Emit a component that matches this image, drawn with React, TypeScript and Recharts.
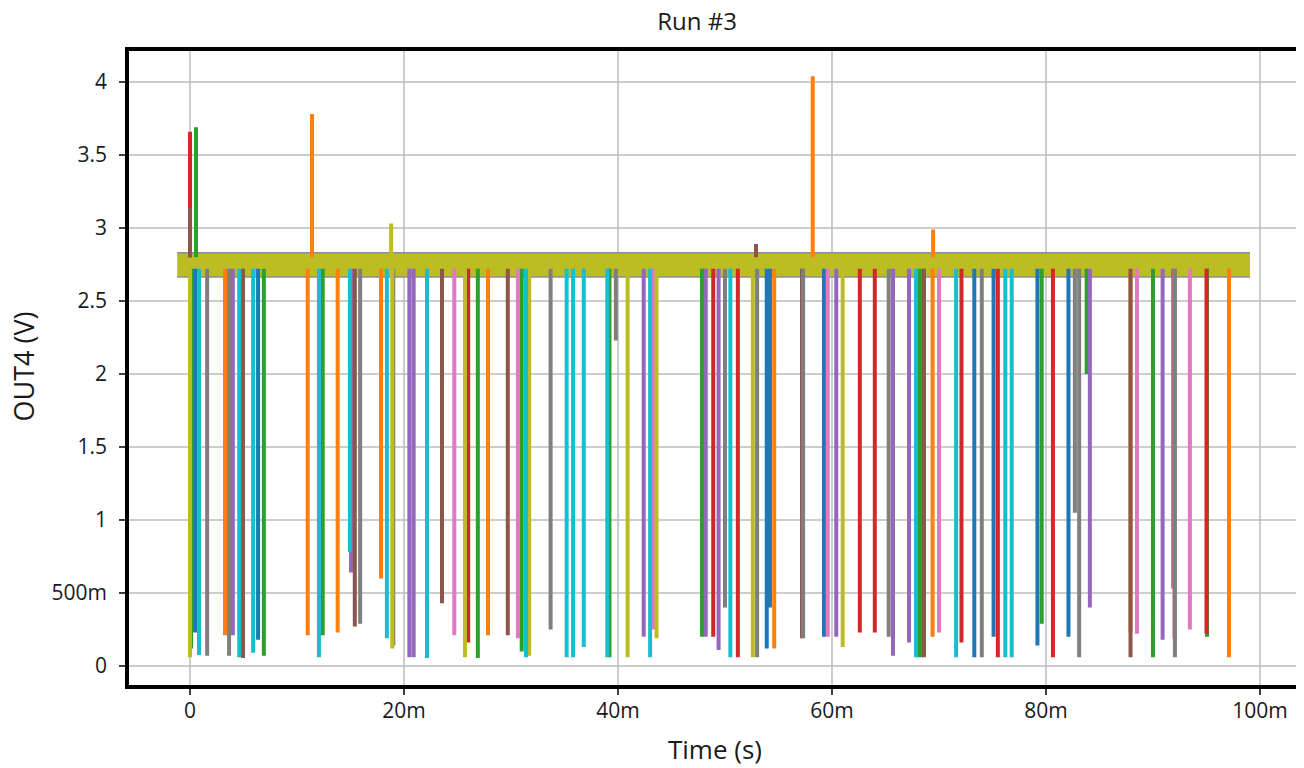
import React from 'react';
import { ComposedChart, Line, Area, XAxis, YAxis, CartesianGrid, ReferenceArea } from 'recharts';

// ---- axes ----
const xTicks = [0, 20, 40, 60, 80, 100]; // ms
const yTicks = [0, 0.5, 1, 1.5, 2, 2.5, 3, 3.5, 4];
const xDomain = [-5.89, 103.74];
const yDomain = [-0.144, 4.226];

// ---- steady-state band (ms, V) ----
const bandTimes = [-1.2, 99.07];
const bandLow = 2.665;
const bandHigh = 2.83;
const dipBase = [2.72];
const upBase = [2.8];

// ---- dips [time ms, min V] and peaks [time ms, max V] per series ----
const blueDips = [[0.47, 0.23], [6.36, 0.18], [53.9, 0.12], [54.2, 0.4], [59.25, 0.2], [73.3, 0.06], [75.1, 0.2], [79.2, 0.14], [82.1, 0.2]];
const bluePeaks: number[][] = [];
const orangeDips = [[3.27, 0.21], [11.0, 0.21], [13.8, 0.23], [17.85, 0.6], [27.85, 0.21], [54.6, 0.12], [69.4, 0.2], [87.9, 0.23], [97.1, 0.06]];
const orangePeaks = [[11.4, 3.78], [58.2, 4.04], [69.45, 2.99]];
const greenDips = [[0.1, 0.12], [6.9, 0.07], [12.4, 0.21], [26.9, 0.055], [31.0, 0.1], [39.2, 0.06], [47.85, 0.2], [68.0, 0.06], [68.3, 0.06], [79.6, 0.29], [83.8, 2.0], [90.0, 0.06], [95.05, 0.2]];
const greenPeaks = [[0.56, 3.69]];
const redDips = [[26.0, 0.16], [48.9, 0.2], [51.2, 0.06], [62.6, 0.23], [64.0, 0.23], [72.1, 0.16], [75.5, 0.06], [80.65, 0.06], [95.0, 0.22]];
const redPeaks = [[0.0, 3.66]];
const purpleDips = [[4.0, 0.21], [15.05, 0.64], [20.5, 0.06], [20.9, 0.06], [42.4, 0.2], [48.2, 0.2], [49.4, 0.11], [60.4, 0.2], [65.7, 0.07], [67.2, 0.16], [84.1, 0.4], [90.9, 0.18]];
const purplePeaks: number[][] = [];
const brownDips = [[4.95, 0.055], [15.4, 0.27], [23.55, 0.43], [29.7, 0.21], [57.2, 0.19], [68.6, 0.06], [87.9, 0.06], [91.9, 0.53]];
const brownPeaks = [[0.0, 3.14], [52.9, 2.89]];
const pinkDips = [[24.7, 0.21], [30.65, 0.19], [43.3, 0.25], [59.6, 0.2], [70.0, 0.23], [88.5, 0.22], [92.0, 0.19], [93.45, 0.25]];
const pinkPeaks: number[][] = [];
const grayDips = [[1.6, 0.07], [3.65, 0.07], [15.9, 0.29], [19.0, 0.14], [33.7, 0.25], [39.8, 2.23], [50.0, 0.4], [53.0, 0.06], [57.3, 0.19], [65.3, 0.2], [74.0, 0.06], [82.7, 1.05], [83.1, 0.06], [92.05, 0.06]];
const grayPeaks: number[][] = [];
const oliveDips = [[0.0, 0.06], [18.9, 0.12], [25.7, 0.06], [31.7, 0.07], [40.9, 0.06], [43.6, 0.19], [52.6, 0.06], [61.0, 0.13]];
const olivePeaks = [[18.8, 3.03]];
const cyanDips = [[0.84, 0.075], [4.6, 0.06], [5.9, 0.09], [12.05, 0.06], [14.95, 0.78], [18.4, 0.19], [22.15, 0.055], [31.4, 0.06], [35.2, 0.06], [35.8, 0.06], [36.8, 0.13], [39.0, 0.06], [43.0, 0.06], [50.5, 0.06], [67.85, 0.06], [71.6, 0.06], [76.2, 0.06], [76.8, 0.06]];
const cyanPeaks: number[][] = [];

const seriesColors = ['#1f77b4', '#ff7f0e', '#2ca02c', '#d62728', '#9467bd', '#8c564b', '#e377c2', '#7f7f7f', '#bcbd22', '#17becf'];
const seriesDips = [blueDips, orangeDips, greenDips, redDips, purpleDips, brownDips, pinkDips, grayDips, oliveDips, cyanDips];
const seriesPeaks = [bluePeaks, orangePeaks, greenPeaks, redPeaks, purplePeaks, brownPeaks, pinkPeaks, grayPeaks, olivePeaks, cyanPeaks];

function spikeData(dips: number[][], peaks: number[][]) {
  const out: { t: number; v: number | null }[] = [];
  dips.forEach(([t, v]) => {
    out.push({ t, v: dipBase[0] }, { t, v }, { t, v: null });
  });
  peaks.forEach(([t, v]) => {
    out.push({ t, v: upBase[0] }, { t, v }, { t, v: null });
  });
  return out;
}

const bandData = bandTimes.map((t) => ({ t, r: [bandLow, bandHigh] }));

const FONT = '"Open Sans", "Noto Sans", sans-serif';

const fmtX = (v: number) => (v === 0 ? '0' : `${v}m`);
const fmtY = (v: number) => (v > 0 && v < 1 ? `${Math.round(v * 1000)}m` : String(v));

export default function App() {
  return (
    <div style={{ position: 'relative', width: 1296, height: 760, background: '#fff', fontFamily: FONT }}>
      <div style={{ position: 'absolute', left: 589, width: 200, top: -4, textAlign: 'center', fontSize: 24, lineHeight: 'normal', color: '#1a1a1a' }}>Run #3</div>
      <div style={{ position: 'absolute', left: 607, width: 200, top: 723, textAlign: 'center', fontSize: 26, lineHeight: 'normal', color: '#1a1a1a' }}>Time (s)</div>
      <div style={{ position: 'absolute', left: -65, width: 160, top: 340, textAlign: 'center', fontSize: 27, lineHeight: 'normal', color: '#1a1a1a', transform: 'rotate(-90deg)' }}>OUT4 (V)</div>
      <ComposedChart width={1296} height={760} margin={{ top: 41, right: 4, bottom: 21, left: 19 }}>
        <CartesianGrid stroke="#bdbdbd" strokeWidth={1.5} />
        <XAxis
          type="number"
          dataKey="t"
          domain={xDomain}
          ticks={xTicks}
          tickFormatter={fmtX}
          allowDataOverflow
          height={60}
          axisLine={false}
          tickSize={8}
          tickMargin={8}
          tick={{ fill: '#1a1a1a', fontSize: 21, fontFamily: FONT }}
          tickLine={{ stroke: '#000', strokeWidth: 1.5 }}
        />
        <YAxis
          type="number"
          domain={yDomain}
          ticks={yTicks}
          tickFormatter={fmtY}
          allowDataOverflow
          width={100}
          axisLine={false}
          tickSize={8}
          tickMargin={12}
          tick={{ fill: '#1a1a1a', fontSize: 21, fontFamily: FONT }}
          tickLine={{ stroke: '#000', strokeWidth: 1.5 }}
        />
        {seriesColors.map((c, i) => (
          <Line
            key={c}
            data={spikeData(seriesDips[i], seriesPeaks[i])}
            dataKey="v"
            stroke={c}
            strokeWidth={4}
            dot={false}
            activeDot={false}
            connectNulls={false}
            isAnimationActive={false}
          />
        ))}
        <Area
          data={bandData}
          dataKey="r"
          fill="#bcbd22"
          fillOpacity={1}
          stroke="#8a8fa0"
          strokeWidth={1.5}
          isAnimationActive={false}
        />
        <ReferenceArea
          x1={xDomain[0]}
          x2={xDomain[1]}
          y1={yDomain[0]}
          y2={yDomain[1]}
          fill="none"
          stroke="#000"
          strokeWidth={4}
          ifOverflow="visible"
        />
      </ComposedChart>
    </div>
  );
}
